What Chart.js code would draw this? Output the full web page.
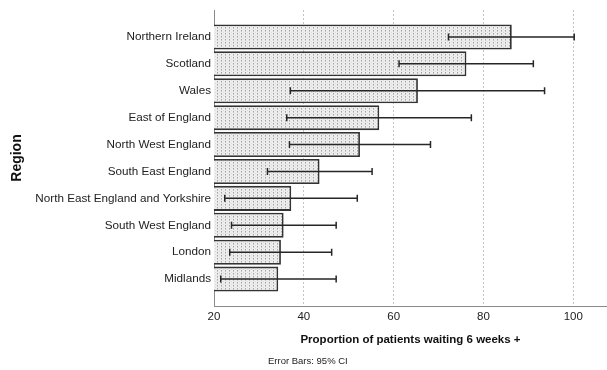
<!DOCTYPE html>
<html>
<head>
<meta charset="utf-8">
<script src="https://cdn.jsdelivr.net/npm/chart.js@4"></script>
<style>
  html, body { margin: 0; padding: 0; background: #fff; }
  canvas { display: block; }
</style>
</head>
<body>
<canvas id="chart" width="607" height="370"></canvas>
<script>
// Waiting-time proportions by region, with 95% confidence intervals
const regions = [
  'Northern Ireland', 'Scotland', 'Wales', 'East of England',
  'North West England', 'South East England',
  'North East England and Yorkshire', 'South West England',
  'London', 'Midlands'
];
const proportion = [86.3, 76.2, 65.4, 56.8, 52.5, 43.5, 37.2, 35.5, 34.9, 34.3];
const ciLower    = [72.2, 61.2, 37.0, 36.2, 36.8, 31.9, 22.4, 23.9, 23.5, 21.5];
const ciUpper    = [100.2, 91.1, 93.6, 77.3, 68.2, 55.2, 51.9, 47.2, 46.2, 47.2];
const xTicks = [20, 40, 60, 80, 100];

// Empty slots above and below leave a full band of space at both ends
const labels = [''].concat(regions, ['']);
const barValues = [null].concat(proportion, [null]);
const lowValues = [null].concat(ciLower, [null]);
const highValues = [null].concat(ciUpper, [null]);

// Stippled grey fill for the bars
function dotPattern(ctx) {
  const tile = document.createElement('canvas');
  tile.width = 4; tile.height = 3;
  const t = tile.getContext('2d');
  t.fillStyle = '#eeeeee';
  t.fillRect(0, 0, 4, 3);
  t.fillStyle = '#a2a2a2';
  t.fillRect(1, 0, 1, 1);
  t.fillStyle = '#c4c4c4';
  t.fillRect(1, 1, 1, 1);
  t.fillStyle = '#dadada';
  t.fillRect(3, 2, 1, 1);
  return ctx.createPattern(tile, 'repeat');
}

const FONT = '"Liberation Sans", Arial, sans-serif';

const errorBars = {
  id: 'errorBars',
  afterDatasetsDraw(chart) {
    const { ctx, scales: { x } } = chart;
    const meta = chart.getDatasetMeta(0);
    ctx.save();
    ctx.strokeStyle = '#262626';
    ctx.lineWidth = 1.5;
    meta.data.forEach((bar, i) => {
      if (lowValues[i] == null) return;
      const y = bar.y;
      const x1 = x.getPixelForValue(lowValues[i]);
      const x2 = x.getPixelForValue(highValues[i]);
      ctx.beginPath();
      ctx.moveTo(x1, y); ctx.lineTo(x2, y);
      ctx.moveTo(x1, y - 3.5); ctx.lineTo(x1, y + 3.5);
      ctx.moveTo(x2, y - 3.5); ctx.lineTo(x2, y + 3.5);
      ctx.stroke();
    });
    ctx.restore();
  }
};

const footNote = {
  id: 'footNote',
  afterDraw(chart) {
    const { ctx } = chart;
    ctx.save();
    ctx.font = '9.5px ' + FONT;
    ctx.fillStyle = '#222';
    ctx.textAlign = 'left';
    ctx.textBaseline = 'middle';
    ctx.fillText('Error Bars: 95% CI', 268, 361.5);
    ctx.restore();
  }
};

const canvas = document.getElementById('chart');
const ctx = canvas.getContext('2d');

new Chart(ctx, {
  type: 'bar',
  data: {
    labels: labels,
    datasets: [{
      data: barValues,
      backgroundColor: dotPattern(ctx),
      borderColor: '#333',
      borderWidth: 1.8,
      borderSkipped: false,
      categoryPercentage: 1,
      barPercentage: 0.93
    }]
  },
  options: {
    indexAxis: 'y',
    responsive: false,
    animation: false,
    layout: { padding: { top: 9, right: 0, bottom: 0, left: 0 } },
    plugins: {
      legend: { display: false },
      tooltip: { enabled: false }
    },
    scales: {
      x: {
        type: 'linear',
        min: 20,
        max: 107.5,
        afterBuildTicks(scale) {
          scale.ticks = xTicks.map(v => ({ value: v }));
        },
        afterFit(scale) { scale.height = 64; },
        ticks: {
          padding: 4,
          color: '#222',
          font: { family: FONT, size: 11.5 }
        },
        grid: {
          drawTicks: false,
          color: ctx => ctx.tick && ctx.tick.value === 20 ? 'rgba(0,0,0,0)' : '#c4c4c4',
          lineWidth: 1
        },
        border: { display: true, color: '#8a8a8a', width: 1, dash: [2, 2] },
        title: {
          display: true,
          text: 'Proportion of patients waiting 6 weeks +',
          color: '#111',
          font: { family: FONT, size: 11.5, weight: 'bold' },
          padding: { top: 0, bottom: 23.1 }
        }
      },
      y: {
        type: 'category',
        offset: false,
        afterFit(scale) { scale.width = 214; },
        ticks: {
          padding: 3,
          color: '#222',
          autoSkip: false,
          font: { family: FONT, size: 11.7 }
        },
        grid: { display: false, drawTicks: false },
        border: { display: true, color: '#8a8a8a', width: 1 },
        title: {
          display: true,
          text: 'Region',
          color: '#111',
          font: { family: FONT, size: 14, weight: 'bold' },
          padding: { top: 8.6, bottom: 0 }
        }
      }
    }
  },
  plugins: [errorBars, footNote]
});
</script>
</body>
</html>
